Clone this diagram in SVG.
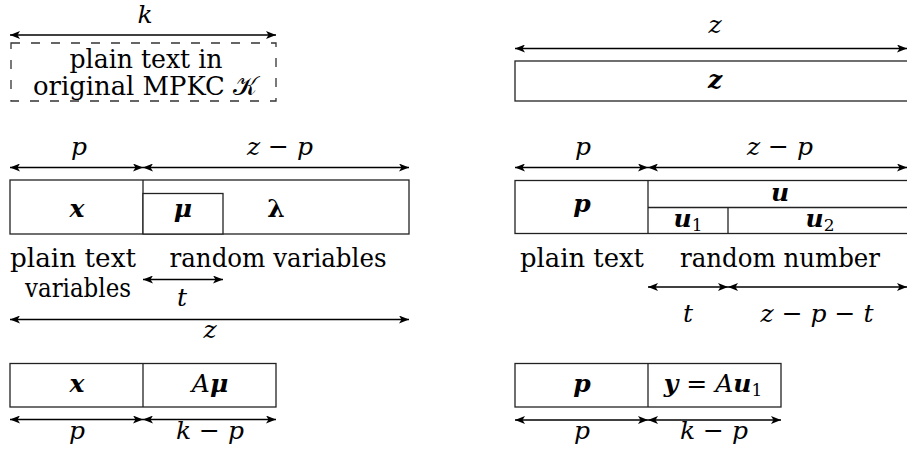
<svg xmlns="http://www.w3.org/2000/svg" width="907" height="460" viewBox="0 0 907 460">
<defs>
<marker id="ah" viewBox="0 0 10 8" refX="10" refY="4" markerWidth="11" markerHeight="8" markerUnits="userSpaceOnUse" orient="auto-start-reverse">
<path d="M0,0 L10,4 L0,8 L2.5,4 Z" fill="#000"/>
</marker>
</defs>
<style>
text{font-family:'DejaVu Serif',serif;font-size:26px;fill:#000;text-anchor:middle}
.m{font-style:italic;font-size:25px}
.b{font-style:italic;font-weight:bold;font-size:25px}
.bu{font-weight:bold;font-size:25px}
.sub{font-size:17px;font-style:normal;font-weight:normal}
.box{fill:#fff;stroke:#222;stroke-width:1.3}
.ln{fill:none;stroke:#222;stroke-width:1.3}
.dash{fill:none;stroke:#333;stroke-width:1.3;stroke-dasharray:9 11}
.arr{fill:none;stroke:#000;stroke-width:1.5;marker-start:url(#ah);marker-end:url(#ah)}
</style>

<g id="connectors">
<line class="arr" x1="10" y1="35" x2="276" y2="35"/>
<line class="arr" x1="515" y1="48.5" x2="907" y2="48.5"/>
<line class="arr" x1="10" y1="167.5" x2="143" y2="167.5"/>
<line class="arr" x1="143" y1="167.5" x2="409" y2="167.5"/>
<line class="arr" x1="143" y1="279.5" x2="223" y2="279.5"/>
<line class="arr" x1="10" y1="319.5" x2="409" y2="319.5"/>
<line class="arr" x1="10" y1="419.5" x2="143" y2="419.5"/>
<line class="arr" x1="143" y1="419.5" x2="276" y2="419.5"/>
<line class="arr" x1="515" y1="167.5" x2="648" y2="167.5"/>
<line class="arr" x1="648" y1="167.5" x2="907" y2="167.5"/>
<line class="arr" x1="648" y1="287" x2="728" y2="287"/>
<line class="arr" x1="728" y1="287" x2="907" y2="287"/>
<line class="arr" x1="515" y1="420" x2="648" y2="420"/>
<line class="arr" x1="648" y1="420" x2="781" y2="420"/>
</g>

<g id="labels">
<text class="m" x="145" y="23">k</text>
<text class="m" x="715" y="33">z</text>
<text class="m" x="79" y="155">p</text>
<text class="m" x="280" y="155">z − p</text>
<text class="m" x="182" y="306">t</text>
<text class="m" x="210" y="338">z</text>
<text class="m" x="77" y="439">p</text>
<text class="m" x="210" y="439">k − p</text>
<text class="m" x="583" y="155">p</text>
<text class="m" x="780" y="155">z − p</text>
<text class="m" x="688" y="322">t</text>
<text class="m" x="817" y="322">z − p − t</text>
<text class="m" x="582" y="439">p</text>
<text class="m" x="714" y="439">k − p</text>
</g>

<g id="orig">
<rect class="dash" x="11" y="43" width="265" height="58"/>
<text x="146" y="68" textLength="153" lengthAdjust="spacingAndGlyphs">plain text in</text>
<text x="145" y="95" textLength="224" lengthAdjust="spacingAndGlyphs">original MPKC <tspan style="font-family:'DejaVu Sans','Noto Sans',sans-serif">𝒦</tspan></text>
</g>

<g id="zbox">
<rect class="box" x="515" y="61" width="410" height="40"/>
<text class="b" x="715" y="88">z</text>
</g>

<g id="row2left">
<rect class="box" x="10" y="180" width="399" height="54"/>
<line class="ln" x1="143" y1="180" x2="143" y2="234"/>
<rect class="box" x="143" y="193.5" width="80" height="40.5"/>
<text class="b" x="77" y="217">x</text>
<text class="b" x="183" y="217">μ</text>
<text class="bu" x="276" y="217">λ</text>
<text x="73" y="267" textLength="126" lengthAdjust="spacingAndGlyphs">plain text</text>
<text x="78" y="297" textLength="106" lengthAdjust="spacingAndGlyphs">variables</text>
<text x="278" y="267" textLength="217" lengthAdjust="spacingAndGlyphs">random variables</text>
</g>

<g id="row2right">
<rect class="box" x="515" y="180.5" width="410" height="53"/>
<line class="ln" x1="648" y1="180.5" x2="648" y2="233.5"/>
<line class="ln" x1="648" y1="207.5" x2="925" y2="207.5"/>
<line class="ln" x1="728" y1="207.5" x2="728" y2="233.5"/>
<text class="b" x="582" y="212">p</text>
<text class="b" x="780" y="201">u</text>
<text class="b" x="688" y="227">u<tspan class="sub" dy="4">1</tspan></text>
<text class="b" x="820" y="227">u<tspan class="sub" dy="4">2</tspan></text>
<text x="582" y="267" textLength="124" lengthAdjust="spacingAndGlyphs">plain text</text>
<text x="780" y="267" textLength="200" lengthAdjust="spacingAndGlyphs">random number</text>
</g>

<g id="row3left">
<rect class="box" x="10" y="363.5" width="266" height="43.5"/>
<line class="ln" x1="143" y1="363.5" x2="143" y2="407"/>
<text class="b" x="77" y="392">x</text>
<text class="m" x="210" y="392">A<tspan class="b">μ</tspan></text>
</g>

<g id="row3right">
<rect class="box" x="515" y="363.5" width="266" height="43.5"/>
<line class="ln" x1="648" y1="363.5" x2="648" y2="407"/>
<text class="b" x="582" y="392">p</text>
<text class="m" x="713" y="392"><tspan class="b">y</tspan> = A<tspan class="b">u</tspan><tspan class="sub" dy="4">1</tspan></text>
</g>
</svg>
